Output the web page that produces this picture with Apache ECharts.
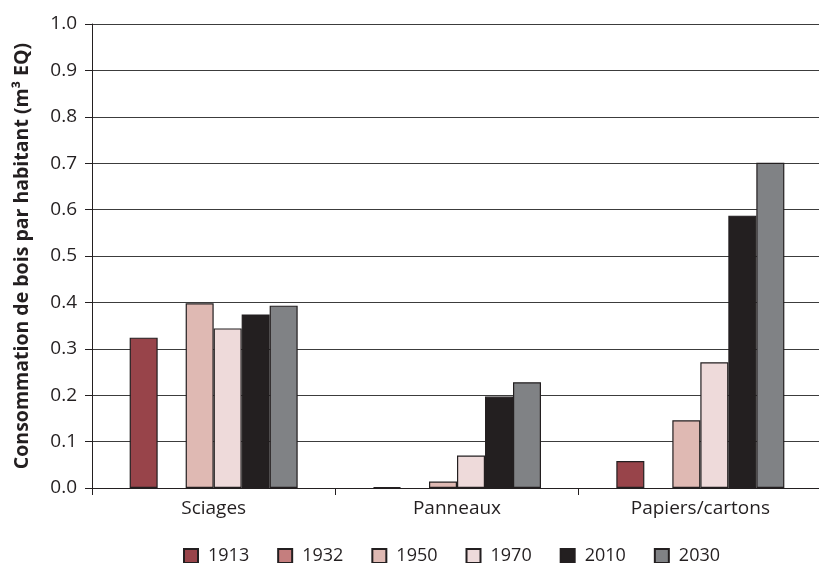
<!DOCTYPE html>
<html>
<head>
<meta charset="utf-8">
<script src="https://cdn.jsdelivr.net/npm/echarts@6/dist/echarts.min.js"></script>
<style>
html,body{margin:0;padding:0;background:#fff;}
#chart{width:819px;height:563px;}
</style>
</head>
<body>
<div id="chart"></div>
<script>
const categories = ['Sciages', 'Panneaux', 'Papiers/cartons'];
const years = ['1913', '1932', '1950', '1970', '2010', '2030'];
const v1913 = [0.324, 0.002, 0.058];
const v1932 = [null, null, null];
const v1950 = [0.398, 0.014, 0.146];
const v1970 = [0.344, 0.070, 0.271];
const v2010 = [0.374, 0.197, 0.587];
const v2030 = [0.393, 0.228, 0.701];
const yTicks = [0, 0.1, 0.2, 0.3, 0.4, 0.5, 0.6, 0.7, 0.8, 0.9, 1.0];

const values = [v1913, v1932, v1950, v1970, v2010, v2030];
const colors = ['#98444a', '#c57e7e', '#dfb9b3', '#eedada', '#231f20', '#808285'];
const font = 'Open Sans';

const chart = echarts.init(document.getElementById('chart'));
chart.setOption({
  animation: false,
  backgroundColor: '#fff',
  grid: { left: 92, right: -3, top: 24, bottom: 75, containLabel: false, outerBoundsMode: 'none' },
  legend: {
    data: years,
    top: 542,
    left: 178,
    itemWidth: 14,
    itemHeight: 14,
    itemGap: 28,
    icon: 'rect',
    textStyle: { fontFamily: font, fontSize: 18, color: '#231f20', padding: [0, 0, 0, 5] }
  },
  xAxis: {
    type: 'category',
    data: categories,
    axisLine: { show: true, lineStyle: { color: '#231f20', width: 1 } },
    axisTick: { show: true, length: 7, lineStyle: { color: '#231f20' } },
    axisLabel: { fontFamily: font, fontSize: 19, color: '#231f20', margin: 11 },
    splitLine: { show: false }
  },
  yAxis: {
    type: 'value',
    min: 0, max: 1, interval: 0.1,
    name: 'Consommation de bois par habitant (m³ EQ)',
    nameLocation: 'middle',
    nameGap: 60,
    nameTextStyle: { fontFamily: font, fontSize: 19.5, fontWeight: 'bold', color: '#231f20' },
    axisLine: { show: true, lineStyle: { color: '#231f20', width: 1 } },
    axisTick: { show: true, length: 7, inside: false, lineStyle: { color: '#231f20' } },
    axisLabel: {
      fontFamily: font, fontSize: 19, color: '#231f20', margin: 15,
      formatter: v => yTicks.includes(Math.round(v * 10) / 10) ? v.toFixed(1) : ''
    },
    splitLine: { show: true, lineStyle: { color: '#3c3c3c', width: 1 } }
  },
  series: years.map((y, i) => ({
    name: y,
    type: 'bar',
    data: values[i],
    barWidth: 28,
    barGap: '0%',
    itemStyle: { color: colors[i], borderColor: '#231f20', borderWidth: 1.2 }
  }))
});
</script>
</body>
</html>
